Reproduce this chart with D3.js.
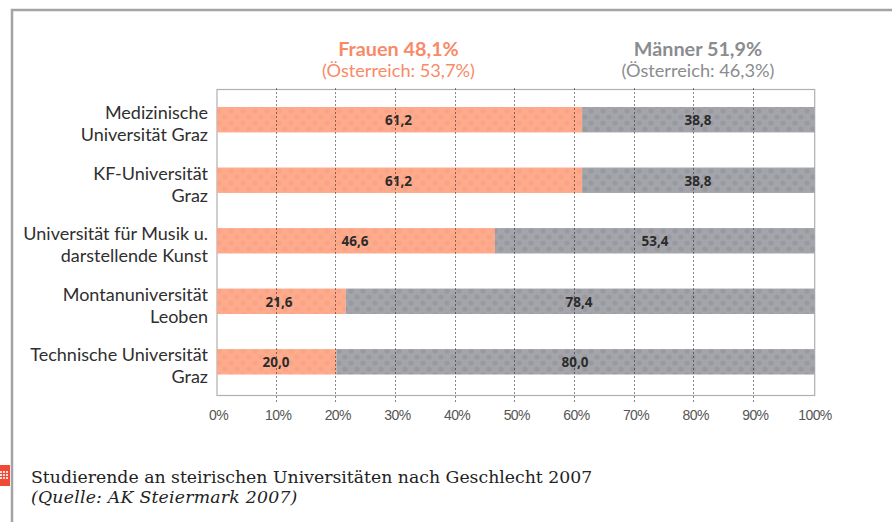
<!DOCTYPE html>
<html><head><meta charset="utf-8">
<script src="https://cdn.jsdelivr.net/npm/d3@7"></script>
<style>html,body{margin:0;padding:0;background:#fff}svg{display:block}</style>
</head><body><svg id="c" width="892" height="522"></svg>
<script>
const categories=[["Medizinische","Universität Graz"],["KF-Universität","Graz"],["Universität für Musik u.","darstellende Kunst"],["Montanuniversität","Leoben"],["Technische Universität","Graz"]];
const frauen=[61.2,61.2,46.6,21.6,20.0];
const maenner=[38.8,38.8,53.4,78.4,80.0];
const ticks=[0,10,20,30,40,50,60,70,80,90,100];
const headF=["Frauen 48,1%","(Österreich: 53,7%)"];
const headM=["Männer 51,9%","(Österreich: 46,3%)"];
const caption=["Studierende an steirischen Universitäten nach Geschlecht 2007","(Quelle: AK Steiermark 2007)"];

const svg=d3.select("#c");
const x=d3.scaleLinear().domain([0,100]).range([217,813.5]);
const y=d3.scaleBand().domain(d3.range(5)).range([107,374.5]).paddingInner(0.58).paddingOuter(0);
const plotTop=89.5,plotBot=395.5,plotRight=x(100)+1.2;
const fmt=v=>v.toFixed(1).replace(".",",");
const defs=svg.append("defs");
function pat(id,bg,dot){
  const p=defs.append("pattern").attr("id",id).attr("patternUnits","userSpaceOnUse").attr("width",12).attr("height",12);
  p.append("rect").attr("width",12).attr("height",12).attr("fill",bg);
  [[3,3],[9,9]].forEach(d=>p.append("circle").attr("cx",d[0]).attr("cy",d[1]).attr("r",2.6).attr("fill",dot));
}
pat("pf","#feab8d","#fba385");
pat("pm","#a4a5aa","#999a9f");

// frame
svg.append("path").attr("d","M892,10H12V522").attr("fill","none").attr("stroke","#a3a3a8").attr("stroke-width",2.5);

// plot box
svg.append("rect").attr("x",x(0)).attr("y",plotTop).attr("width",plotRight-x(0)).attr("height",plotBot-plotTop)
  .attr("fill","#fff").attr("stroke","#b0b0b3").attr("stroke-width",1.2);

// bars
const rows=svg.append("g").selectAll("g").data(d3.range(5)).join("g");
rows.append("rect").attr("x",x(0)).attr("y",i=>y(i)).attr("height",y.bandwidth())
  .attr("width",i=>x(frauen[i])-x(0)).attr("fill","url(#pf)");
rows.append("rect").attr("x",i=>x(frauen[i])).attr("y",i=>y(i)).attr("height",y.bandwidth())
  .attr("width",i=>plotRight-x(frauen[i])).attr("fill","url(#pm)");

// grid
svg.append("g").selectAll("line").data(ticks.slice(1,10)).join("line")
  .attr("x1",d=>Math.round(x(d))-.5).attr("x2",d=>Math.round(x(d))-.5).attr("y1",plotTop-1).attr("y2",plotBot+6)
  .attr("stroke","#111").attr("stroke-width",1).attr("stroke-dasharray","1 3");

// value labels
const vf={"font-family":"Open Sans, sans-serif","font-weight":700,"font-size":"13.5px","fill":"#2b2b2b","text-anchor":"middle"};
function vals(arr,cx){
  const s=svg.append("g").selectAll("text").data(d3.range(5)).join("text")
    .attr("x",cx).attr("y",i=>y(i)+y.bandwidth()/2+5.5).text(i=>fmt(arr[i]));
  for(const k in vf)s.style(k,vf[k]);
}
const labelCx=[398.5,398.5,355,279,276];
const labelMx=[698,698,655,579,575];
vals(frauen,i=>labelCx[i]);
vals(maenner,i=>labelMx[i]);

// category labels
const cat=svg.append("g").selectAll("text").data(categories).join("text")
  .attr("text-anchor","end").style("font-family","Lato, sans-serif").style("font-size","18px").style("fill","#2f2f2f");
cat.each(function(d,i){
  const t=d3.select(this);
  d.forEach((line,j)=>t.append("tspan").attr("x",208).attr("y",y(i)+y.bandwidth()/2-0.5+(j*22)).text(line));
});

// tick labels
svg.append("g").selectAll("text").data(ticks).join("text")
  .attr("x",d=>x(d)+1.5).attr("y",420).attr("text-anchor","middle")
  .style("font-family","Liberation Sans, sans-serif").style("font-size","14px").style("letter-spacing","-0.6px").style("fill","#555")
  .text(d=>d+"%");

// headers
function head(lines,cx,col){
  svg.append("text").attr("x",cx).attr("y",55.5).attr("text-anchor","middle")
    .style("font-family","Lato, sans-serif").style("font-weight",700).style("font-size","19.8px").style("fill",col).text(lines[0]);
  svg.append("text").attr("x",cx).attr("y",77).attr("text-anchor","middle")
    .style("font-family","Lato, sans-serif").style("font-size","18.2px").style("fill",col).text(lines[1]);
}
head(headF,398.5,"#f98a68");
head(headM,698,"#8b8c90");

// caption
svg.append("text").attr("x",31).attr("y",483).style("font-family","DejaVu Serif, serif").style("font-size","17.3px").style("fill","#222").text(caption[0]);
svg.append("text").attr("x",31).attr("y",503).style("font-family","DejaVu Serif, serif").style("font-style","italic").style("font-size","17.3px").style("letter-spacing","0.22px").style("fill","#222").text(caption[1]);

// icon
const ic=svg.append("g");
ic.append("rect").attr("x",0).attr("y",465).attr("width",10).attr("height",21).attr("fill","#f04a36");
ic.selectAll("circle").data(d3.cross([1,4,7],[472,475,478])).join("circle")
  .attr("cx",d=>d[0]).attr("cy",d=>d[1]).attr("r",1.1).attr("fill","#fff");
</script></body></html>
